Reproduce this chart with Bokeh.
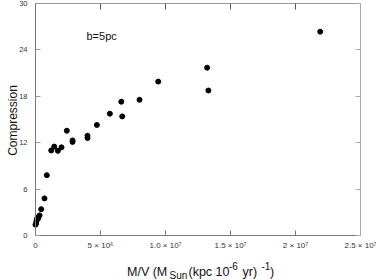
import math
from bokeh.plotting import figure
from bokeh.models import Range1d, FixedTicker, LinearAxis, Label
from bokeh.embed import file_html
from bokeh.resources import INLINE

# Data
mass_per_volume = [0.0e6, 0.05e6, 0.08e6, 0.12e6, 0.15e6, 0.2e6, 0.31e6, 0.44e6, 0.69e6, 0.87e6,
                   1.21e6, 1.44e6, 1.72e6, 2.0e6, 2.41e6, 2.85e6, 2.85e6, 4.0e6, 4.0e6, 4.72e6,
                   5.72e6, 6.6e6, 6.67e6, 8.0e6, 9.44e6, 13.2e6, 13.3e6, 21.9e6]
compression = [1.4, 1.6, 1.9, 2.1, 2.3, 2.2, 2.6, 3.4, 4.8, 7.8,
               11.0, 11.5, 10.95, 11.4, 13.55, 12.1, 12.3, 12.6, 12.9, 14.3,
               15.75, 17.3, 15.4, 17.55, 19.9, 21.7, 18.75, 26.35]
x_ticks = [0, 5e6, 1e7, 1.5e7, 2e7, 2.5e7]
x_tick_labels = ["0", "5 × 10⁶", "1.0 × 10⁷", "1.5 × 10⁷", "2 × 10⁷", "2.5 × 10⁷"]
y_ticks = [0, 6, 12, 18, 24, 30]
y_title = "Compression"
annotation = "b=5pc"

FONT = "Liberation Sans"
W, H = 376, 280
FL, FR, FT, FB = 35, 360, 3, 235  # plot box edges (figure pixels)
X0, X1, Y0, Y1 = 0, 2.5e7, 0, 30

def dx(px):
    return X0 + (px - FL) / (FR - FL) * (X1 - X0)

def dy(py):
    return Y0 + (FB - py) / (FB - FT) * (Y1 - Y0)

# the frame covers the whole figure; axes are pinned at the box edges
p = figure(width=W, height=H, output_backend="svg", toolbar_location=None,
           x_range=Range1d(dx(0), dx(W)), y_range=Range1d(dy(H), dy(0)),
           min_border_left=0, min_border_right=0, min_border_top=0, min_border_bottom=0)
p.grid.visible = False
p.outline_line_color = None
p.background_fill_color = "white"
p.border_fill_color = "white"

p.scatter(mass_per_volume, compression, size=5, color="black")

# bottom axis
xa = p.xaxis[0]
xa.fixed_location = Y0
xa.bounds = (X0, X1)
xa.ticker = FixedTicker(ticks=x_ticks)
xa.major_label_overrides = {t: l for t, l in zip(x_ticks, x_tick_labels)}
xa.major_tick_in = 5
xa.major_tick_out = 0
xa.minor_tick_line_color = None
xa.axis_line_color = "#777777"
xa.major_tick_line_color = "#777777"
xa.major_label_text_font = FONT
xa.major_label_text_font_size = "8px"
xa.major_label_text_color = "#333333"
xa.major_label_standoff = 5

# left axis
ya = p.yaxis[0]
ya.fixed_location = X0
ya.bounds = (Y0, Y1)
ya.ticker = FixedTicker(ticks=y_ticks)
ya.major_tick_in = 5
ya.major_tick_out = 0
ya.minor_tick_line_color = None
ya.axis_line_color = "#777777"
ya.major_tick_line_color = "#999999"
ya.major_label_text_font = FONT
ya.major_label_text_font_size = "7.5px"
ya.major_label_text_color = "#333333"
ya.major_label_standoff = 8
ya.major_label_orientation = "horizontal"

# top and right axes (ticks only)
top = LinearAxis(ticker=FixedTicker(ticks=x_ticks), fixed_location=Y1, bounds=(X0, X1),
                 major_tick_in=6, major_tick_out=0, minor_tick_line_color=None,
                 axis_line_color="#999999", major_tick_line_color="#555555",
                 major_label_text_font_size="0px", major_label_standoff=0)
right = LinearAxis(ticker=FixedTicker(ticks=y_ticks), fixed_location=X1, bounds=(Y0, Y1),
                   major_tick_in=5, major_tick_out=0, minor_tick_line_color=None,
                   axis_line_color="#aaaaaa", major_tick_line_color="#aaaaaa",
                   major_label_text_font_size="0px", major_label_standoff=0)
p.add_layout(top, "above")
p.add_layout(right, "right")

# y title (rotated)
p.add_layout(Label(x=dx(12.5), y=dy(120), text=y_title, angle=math.pi / 2, text_font=FONT,
                   text_font_size="12px", text_color="#111111", text_align="center",
                   text_baseline="alphabetic"))

p.add_layout(Label(x=dx(86), y=dy(35), text=annotation, text_font=FONT,
                   text_font_size="11px", text_color="#111111", text_baseline="alphabetic"))

# x axis title with sub/superscripts
pieces = [
    ("M/V (M", 126.5, 271, "12.5px"),
    ("Sun", 169, 275, "10px"),
    ("(kpc 10", 188, 271, "12.5px"),
    ("-6", 228.5, 265, "10px"),
    ("yr)", 242, 271, "12.5px"),
    ("-1", 261, 265, "10px"),
    (")", 269.5, 271, "12.5px"),
]
for txt, px, py, fs in pieces:
    p.add_layout(Label(x=dx(px), y=dy(py), text=txt, text_font=FONT, text_font_size=fs,
                       text_color="#111111", text_baseline="alphabetic"))

open("out.html", "w").write(file_html(p, INLINE))
